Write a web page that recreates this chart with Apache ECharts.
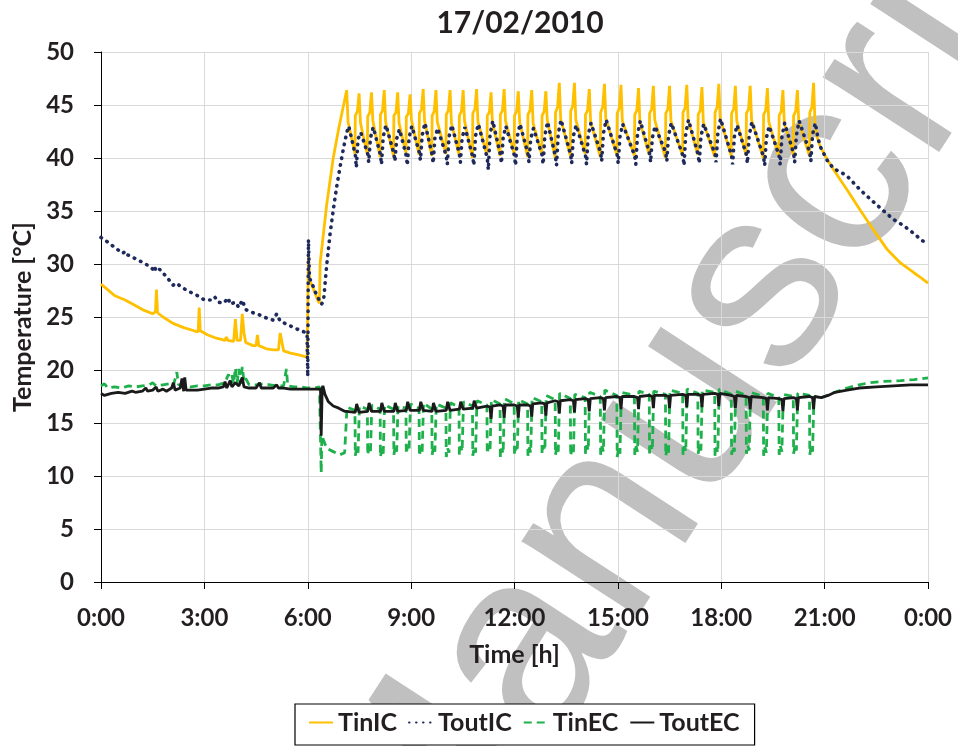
<!DOCTYPE html>
<html><head><meta charset="utf-8">
<script src="https://cdn.jsdelivr.net/npm/echarts@6/dist/echarts.min.js"></script>
<style>html,body{margin:0;padding:0;background:#fff}#c{width:958px;height:746px}</style>
</head><body><div id="c"></div>
<script>
const titleText = '17/02/2010';
const xAxisName = 'Time [h]';
const yAxisName = 'Temperature [°C]';
const xTickLabels = ['0:00','3:00','6:00','9:00','12:00','15:00','18:00','21:00','0:00'];
const seriesNames = ['TinIC','ToutIC','TinEC','ToutEC'];
const watermarkText = 'Manuscript';

// [hour, °C]
const tinIC = [
[0,28.1],[0.15,27.7],[0.4,27.0],[0.7,26.6],[0.93,26.2],[1.2,25.7],[1.5,25.3],[1.58,25.5],[1.61,27.6],[1.64,25.4],[1.8,25.0],[2.09,24.4],[2.4,24.0],[2.7,23.7],[2.82,23.6],[2.85,25.9],[2.88,23.7],[3.1,23.3],[3.35,23.0],[3.6,22.8],[3.64,23.1],[3.68,22.8],[3.85,22.7],[3.9,24.8],[3.95,22.8],[4.05,22.8],[4.1,25.3],[4.15,23.5],[4.2,22.6],[4.41,22.3],[4.5,22.3],[4.54,23.3],[4.58,22.3],[4.8,22.0],[5.0,21.9],[5.15,21.9],[5.2,23.5],[5.25,23.4],[5.3,21.8],[5.5,21.6],[5.77,21.4],[5.98,21.2],
[6.0,21.3],[6.02,31.0],[6.06,28.4],[6.12,28.0],[6.3,26.5],[6.34,26.3],[6.36,30.1],[6.55,35.6],[6.74,40.0],[6.9,42.8],[7.13,46.4],[7.17,43.4],
[7.37,40.4],[7.38,44.0],[7.44,44.4],[7.49,46.1],[7.53,43.3],
[7.73,40.3],[7.74,43.9],[7.80,44.3],[7.85,46.2],[7.89,43.5],
[8.10,40.1],[8.11,44.1],[8.17,44.5],[8.22,46.4],[8.26,43.4],
[8.49,40.2],[8.50,44.0],[8.56,44.3],[8.61,46.2],[8.65,43.3],
[8.85,40.5],[8.86,43.9],[8.92,44.2],[8.97,46.0],[9.01,43.6],
[9.23,40.3],[9.24,44.2],[9.30,44.6],[9.35,46.5],[9.39,43.5],
[9.60,40.2],[9.61,44.0],[9.67,44.4],[9.72,46.4],[9.76,43.4],
[10.01,40.4],[10.02,44.1],[10.08,44.5],[10.13,46.4],[10.17,43.3],
[10.39,40.3],[10.40,44.0],[10.46,44.4],[10.51,46.4],[10.55,43.5],
[10.78,40.0],[10.79,44.2],[10.85,44.6],[10.90,46.5],[10.94,43.4],
[11.20,40.3],[11.21,44.0],[11.27,44.3],[11.32,46.2],[11.36,43.3],
[11.58,40.2],[11.59,44.1],[11.65,44.5],[11.70,46.5],[11.74,43.5],
[11.99,40.4],[12.00,44.0],[12.06,44.4],[12.11,46.3],[12.15,43.4],
[12.38,40.1],[12.39,44.1],[12.45,44.5],[12.50,46.4],[12.54,43.3],
[12.79,40.3],[12.80,44.0],[12.86,44.4],[12.91,46.3],[12.95,43.6],
[13.18,40.0],[13.19,44.3],[13.25,44.8],[13.30,47.1],[13.34,43.7],
[13.62,40.2],[13.63,44.4],[13.69,44.9],[13.74,47.1],[13.78,43.6],
[14.05,40.4],[14.06,44.1],[14.12,44.5],[14.17,46.5],[14.21,43.4],
[14.49,40.1],[14.50,44.3],[14.56,44.8],[14.61,47.0],[14.65,43.7],
[14.97,40.3],[14.98,44.2],[15.04,44.7],[15.09,46.9],[15.13,43.5],
[15.48,40.2],[15.49,44.1],[15.55,44.5],[15.60,46.6],[15.64,43.4],
[15.91,40.3],[15.92,44.2],[15.98,44.6],[16.03,46.8],[16.07,43.6],
[16.38,40.0],[16.39,44.2],[16.45,44.6],[16.50,46.8],[16.54,43.5],
[16.88,40.2],[16.89,44.3],[16.95,44.7],[17.00,46.9],[17.04,43.6],
[17.32,40.3],[17.33,44.1],[17.39,44.5],[17.44,46.7],[17.48,43.4],
[17.81,40.1],[17.82,44.3],[17.88,44.8],[17.93,47.0],[17.97,43.7],
[18.29,40.2],[18.30,44.2],[18.36,44.6],[18.41,46.8],[18.45,43.5],
[18.72,40.3],[18.73,44.2],[18.79,44.6],[18.84,46.8],[18.88,43.6],
[19.22,40.0],[19.23,44.1],[19.29,44.5],[19.34,46.6],[19.38,43.4],
[19.67,40.2],[19.68,44.0],[19.74,44.4],[19.79,46.4],[19.83,43.3],
[20.09,40.3],[20.10,44.0],[20.16,44.4],[20.21,46.4],[20.25,43.4],
[20.56,40.2],[20.57,44.3],[20.63,44.8],[20.68,47.1],[20.72,43.3],
[20.78,42.0],[20.87,41.1],[20.97,40.5],[21.07,39.9],[21.26,38.9],[21.65,37.0],[22.03,35.1],[22.42,33.2],[22.81,31.4],[23.2,30.1],[23.58,29.2],[23.8,28.7],[24,28.2]
];

const toutIC = [
[0,32.5],[0.1,32.3],[0.3,31.8],[0.63,31.0],[0.7,31.2],[0.75,30.9],[1.0,30.5],[1.3,30.0],[1.51,29.5],[1.55,29.8],[1.6,29.3],[1.7,29.5],[1.9,28.8],[2.09,28.0],[2.2,28.2],[2.3,27.9],[2.5,27.5],[2.87,26.9],[3.0,26.6],[3.2,26.6],[3.3,26.9],[3.4,26.4],[3.55,26.3],[3.7,26.8],[3.74,26.2],[3.9,26.4],[4.0,25.9],[4.1,26.6],[4.2,25.7],[4.41,25.4],[4.6,25.2],[4.8,24.9],[5.0,24.7],[5.1,25.3],[5.2,24.6],[5.4,24.3],[5.6,24.0],[5.8,23.7],[5.98,23.5],
[6.0,19.4],[6.02,32.3],[6.05,28.6],[6.1,28.4],[6.2,27.5],[6.3,26.8],[6.4,26.2],[6.46,26.6],[6.55,29.9],[6.65,32.9],[6.74,35.1],[6.84,37.3],[6.94,39.2],[7.03,40.8],[7.13,42.4],[7.19,43.0],
[7.38,40.3],[7.41,39.1],[7.46,41.8],[7.54,42.4],
[7.74,40.4],[7.77,39.6],[7.82,41.9],[7.90,42.9],
[8.11,40.3],[8.14,39.4],[8.19,42.0],[8.27,43.1],
[8.50,40.4],[8.53,39.7],[8.58,41.8],[8.66,42.7],
[8.86,40.2],[8.89,39.3],[8.94,41.9],[9.02,43.0],
[9.24,40.5],[9.27,39.8],[9.32,42.1],[9.40,43.3],
[9.61,40.3],[9.64,39.5],[9.69,41.9],[9.77,42.8],
[10.02,40.2],[10.05,39.4],[10.10,42.0],[10.18,43.1],
[10.40,40.4],[10.43,39.6],[10.48,41.9],[10.56,42.9],
[10.79,40.1],[10.82,39.3],[10.87,42.1],[10.95,43.2],
[11.21,40.0],[11.24,38.9],[11.29,42.2],[11.37,43.5],
[11.59,40.3],[11.62,39.5],[11.67,41.9],[11.75,43.0],
[12.00,40.2],[12.03,39.3],[12.08,42.0],[12.16,43.2],
[12.39,40.4],[12.42,39.6],[12.47,41.8],[12.55,42.8],
[12.80,40.3],[12.83,39.4],[12.88,42.1],[12.96,43.4],
[13.19,40.1],[13.22,39.3],[13.27,42.3],[13.35,43.6],
[13.63,40.3],[13.66,39.5],[13.71,42.1],[13.79,43.1],
[14.06,40.2],[14.09,39.4],[14.14,42.2],[14.22,43.3],
[14.50,40.5],[14.53,39.7],[14.58,42.3],[14.66,43.6],
[14.98,40.3],[15.01,39.5],[15.06,42.0],[15.14,43.2],
[15.49,40.2],[15.52,39.4],[15.57,42.2],[15.65,43.5],
[15.92,40.4],[15.95,39.6],[16.00,41.9],[16.08,43.0],
[16.39,40.5],[16.42,39.7],[16.47,42.1],[16.55,43.3],
[16.89,40.2],[16.92,39.3],[16.97,42.3],[17.05,43.6],
[17.33,40.3],[17.36,39.5],[17.41,42.0],[17.49,43.2],
[17.82,40.4],[17.85,39.6],[17.90,42.3],[17.98,43.7],
[18.30,40.2],[18.33,39.4],[18.38,42.0],[18.46,43.1],
[18.73,40.3],[18.76,39.5],[18.81,42.1],[18.89,43.4],
[19.23,40.1],[19.26,39.3],[19.31,41.9],[19.39,43.0],
[19.68,40.2],[19.71,39.4],[19.76,42.0],[19.84,43.3],
[20.10,40.4],[20.13,39.6],[20.18,42.1],[20.26,43.5],
[20.57,40.5],[20.60,39.7],[20.65,42.2],[20.73,43.3],
[20.8,42.0],[20.87,41.1],[21.07,39.8],[21.26,39.0],[21.45,38.7],[21.65,38.3],[22.03,37.0],[22.3,36.2],[22.61,35.3],[23.0,34.2],[23.3,33.6],[23.58,32.9],[23.8,32.3],[24,31.8]
];

const tinEC = [
[0,18.5],[0.1,18.7],[0.2,18.3],[0.4,18.4],[0.6,18.3],[0.8,18.5],[1.0,18.4],[1.2,18.5],[1.4,18.6],[1.5,18.8],[1.6,18.5],[1.8,18.6],[2.0,18.7],[2.1,18.5],[2.2,19.8],[2.25,18.6],[2.4,18.6],[2.6,18.4],[2.8,18.5],[3.0,18.5],[3.2,18.6],[3.4,18.6],[3.6,18.8],[3.7,19.6],[3.75,18.6],[3.8,19.5],[3.85,18.7],[3.9,20.2],[3.95,18.8],[4.0,20.1],[4.05,18.7],[4.1,20.3],[4.15,18.9],[4.2,19.2],[4.3,18.6],[4.5,18.6],[4.7,18.7],[4.9,18.6],[5.1,18.5],[5.3,18.5],[5.38,20.1],[5.42,18.5],[5.6,18.4],[5.8,18.4],[6.0,18.3],[6.2,18.3],[6.34,18.4],
[6.37,18.3],[6.39,10.3],[6.41,13.8],[6.55,12.6],[6.74,12.3],[6.93,12.0],[7.07,12.2],[7.14,16.5],
[7.37,16.2],[7.38,11.9],[7.42,12.7],[7.46,12.2],[7.50,16.6],
[7.73,16.3],[7.74,12.0],[7.78,12.8],[7.82,12.3],[7.86,16.7],
[8.10,16.3],[8.11,11.8],[8.15,12.6],[8.19,12.1],[8.23,16.7],
[8.49,16.3],[8.50,12.0],[8.54,12.8],[8.58,12.3],[8.62,16.6],
[8.85,16.4],[8.86,12.1],[8.90,12.9],[8.94,12.4],[8.98,16.8],
[9.23,16.4],[9.24,11.9],[9.28,12.7],[9.32,12.2],[9.36,16.9],
[9.60,16.3],[9.61,12.0],[9.65,12.8],[9.69,12.3],[9.73,16.8],
[10.01,16.4],[10.02,11.8],[10.06,12.6],[10.10,12.2],[10.14,16.9],
[10.39,16.5],[10.40,12.0],[10.44,12.8],[10.48,12.3],[10.52,17.0],
[10.78,16.6],[10.79,11.9],[10.83,12.7],[10.87,12.2],[10.91,17.1],
[11.20,16.7],[11.21,12.1],[11.25,12.9],[11.29,12.4],[11.33,17.2],
[11.58,16.8],[11.59,11.8],[11.63,12.6],[11.67,12.1],[11.71,17.3],
[11.99,16.8],[12.00,12.0],[12.04,12.8],[12.08,12.3],[12.12,17.2],
[12.38,16.8],[12.39,11.9],[12.43,12.7],[12.47,12.2],[12.51,17.4],
[12.79,17.0],[12.80,12.1],[12.84,12.9],[12.88,12.4],[12.92,17.6],
[13.18,17.2],[13.19,12.0],[13.23,12.8],[13.27,12.3],[13.31,17.8],
[13.62,17.3],[13.63,11.9],[13.67,12.7],[13.71,12.2],[13.75,17.7],
[14.05,17.4],[14.06,12.1],[14.10,12.9],[14.14,12.4],[14.18,17.9],
[14.49,17.5],[14.50,12.0],[14.54,12.8],[14.58,12.3],[14.62,18.1],
[14.97,17.6],[14.98,11.8],[15.02,12.6],[15.06,12.1],[15.10,17.9],
[15.48,17.6],[15.49,12.0],[15.53,12.8],[15.57,12.3],[15.61,18.0],
[15.91,17.7],[15.92,12.1],[15.96,12.9],[16.00,12.4],[16.04,18.0],
[16.38,17.7],[16.39,11.9],[16.43,12.7],[16.47,12.2],[16.51,18.1],
[16.88,17.8],[16.89,12.0],[16.93,12.8],[16.97,12.3],[17.01,18.2],
[17.32,17.8],[17.33,12.1],[17.37,12.9],[17.41,12.4],[17.45,18.1],
[17.81,17.9],[17.82,11.9],[17.86,12.7],[17.90,12.2],[17.94,18.2],
[18.29,17.7],[18.30,12.0],[18.34,12.8],[18.38,12.3],[18.42,18.0],
[18.72,17.6],[18.73,12.1],[18.77,12.9],[18.81,12.4],[18.85,17.9],
[19.22,17.5],[19.23,11.9],[19.27,12.7],[19.31,12.2],[19.35,17.8],
[19.67,17.4],[19.68,12.0],[19.72,12.8],[19.76,12.3],[19.80,17.7],
[20.09,17.5],[20.10,12.1],[20.14,12.9],[20.18,12.4],[20.22,17.8],
[20.56,17.6],[20.57,12.0],[20.61,12.8],[20.65,12.3],[20.69,17.5],
[20.8,17.3],[21.0,17.5],[21.3,17.9],[21.65,18.3],[22.0,18.6],[22.3,18.8],[22.6,18.9],[23.2,19.0],[23.6,19.1],[24,19.25]
];

const toutEC = [
[0,17.8],[0.1,17.6],[0.3,17.8],[0.5,17.9],[0.7,17.8],[0.9,18.0],[1.0,17.9],[1.2,18.0],[1.3,18.3],[1.35,18.0],[1.5,18.1],[1.6,18.4],[1.65,18.0],[1.8,18.2],[1.9,18.0],[2.05,18.3],[2.1,18.8],[2.15,18.1],[2.3,18.3],[2.35,19.2],[2.4,18.0],[2.43,19.3],[2.47,18.1],[2.6,18.1],[2.8,18.1],[3.0,18.2],[3.2,18.3],[3.4,18.3],[3.55,18.4],[3.6,18.9],[3.65,18.3],[3.75,19.0],[3.8,18.4],[3.9,18.8],[4.0,18.5],[4.1,19.3],[4.15,18.4],[4.3,18.3],[4.5,18.3],[4.6,18.8],[4.65,18.3],[4.8,18.3],[5.0,18.3],[5.1,18.6],[5.15,18.3],[5.3,18.3],[5.5,18.2],[5.8,18.2],[6.0,18.2],[6.2,18.2],
[6.37,18.2],[6.39,13.8],[6.42,18.3],[6.44,18.5],[6.5,17.7],[6.6,17.0],[6.74,16.6],[6.9,16.4],[7.07,16.1],[7.13,16.1],
[7.38,16.0],[7.42,16.8],[7.45,16.7],[7.49,16.0],
[7.74,16.1],[7.78,16.9],[7.81,16.8],[7.85,16.1],
[8.11,16.1],[8.15,16.9],[8.18,16.8],[8.22,16.1],
[8.50,16.1],[8.54,16.9],[8.57,16.8],[8.61,16.1],
[8.86,16.2],[8.90,17.0],[8.93,16.9],[8.97,16.2],
[9.24,16.2],[9.28,17.0],[9.31,16.9],[9.35,16.2],
[9.61,16.1],[9.65,16.9],[9.68,16.8],[9.72,16.1],
[10.02,16.2],[10.06,17.0],[10.09,16.9],[10.13,16.2],
[10.40,16.3],[10.44,17.0],[10.47,16.9],[10.51,16.3],
[10.79,16.4],[10.83,17.1],[10.86,17.0],[10.90,16.4],
[11.20,16.6],[11.29,16.5],[11.32,15.4],[11.35,16.6],
[11.58,16.7],[11.67,16.6],[11.70,15.5],[11.73,16.7],
[11.99,16.7],[12.08,16.6],[12.11,15.5],[12.14,16.7],
[12.38,16.7],[12.47,16.6],[12.50,15.6],[12.53,16.8],
[12.79,16.9],[12.88,16.8],[12.91,15.7],[12.94,16.9],
[13.18,17.1],[13.27,17.0],[13.30,15.9],[13.33,17.1],
[13.62,17.2],[13.71,17.1],[13.74,16.0],[13.77,17.2],
[14.05,17.3],[14.14,17.2],[14.17,16.1],[14.20,17.3],
[14.49,17.4],[14.58,17.3],[14.61,16.2],[14.64,17.4],
[14.97,17.5],[15.06,17.4],[15.09,16.3],[15.12,17.5],
[15.48,17.5],[15.57,17.4],[15.60,16.3],[15.63,17.5],
[15.91,17.6],[16.00,17.5],[16.03,16.4],[16.06,17.6],
[16.38,17.6],[16.47,17.5],[16.50,16.4],[16.53,17.6],
[16.88,17.7],[16.97,17.6],[17.00,16.5],[17.03,17.7],
[17.32,17.7],[17.41,17.6],[17.44,16.5],[17.47,17.7],
[17.81,17.8],[17.90,17.7],[17.93,16.6],[17.96,17.8],
[18.29,17.6],[18.38,17.5],[18.41,16.4],[18.44,17.6],
[18.72,17.5],[18.81,17.4],[18.84,16.3],[18.87,17.5],
[19.22,17.4],[19.31,17.3],[19.34,16.2],[19.37,17.4],
[19.67,17.3],[19.76,17.2],[19.79,16.1],[19.82,17.3],
[20.09,17.4],[20.18,17.3],[20.21,16.2],[20.24,17.4],
[20.56,17.5],[20.65,17.4],[20.68,16.3],[20.71,17.5],
[20.9,17.4],[21.1,17.6],[21.3,17.9],[21.65,18.1],[22.0,18.3],[22.5,18.4],[23.0,18.5],[23.5,18.6],[24,18.6]
];

const FONT = 'Lato';
const TXT = '#231f20';
const chart = echarts.init(document.getElementById('c'), null, {renderer: 'canvas'});

chart.setOption({
  animation: false,
  backgroundColor: '#fff',
  title: {
    text: titleText, left: 515, top: 3, textAlign: 'center',
    textStyle: {fontFamily: FONT, fontSize: 30, fontWeight: 'bold', color: TXT}
  },
  graphic: [{
    type: 'text', x: 718, y: 360, rotation: 57 * Math.PI / 180, z: -1, silent: true,
    style: {text: watermarkText, fontFamily: 'Liberation Sans', fontSize: 262, fill: '#c0c0c0', align: 'center', verticalAlign: 'middle'}
  }],
  grid: {left: 101, right: 30, top: 52, bottom: 164, containLabel: false},
  legend: {
    data: seriesNames, left: 295, top: 704, orient: 'horizontal',
    padding: [6, 15, 10, 13], itemGap: 11, itemWidth: 24, itemHeight: 12,
    borderColor: '#000', borderWidth: 1.2, backgroundColor: '#fff', z: 10,
    itemStyle: {opacity: 0},
    textStyle: {fontFamily: FONT, fontSize: 25, fontWeight: 'bold', color: TXT}
  },
  xAxis: {
    type: 'value', min: 0, max: 24, interval: 3,
    name: xAxisName, nameLocation: 'middle', nameGap: 60,
    nameTextStyle: {fontFamily: FONT, fontSize: 25, fontWeight: 'bold', color: TXT},
    axisLine: {show: true, lineStyle: {color: '#000', width: 1}},
    axisTick: {show: true, inside: false, length: 7, lineStyle: {color: '#000'}},
    axisLabel: {margin: 24, fontFamily: FONT, fontSize: 24, fontWeight: 'bold', color: TXT,
      formatter: v => xTickLabels[Math.round(v / 3)]},
    splitLine: {show: true, lineStyle: {color: '#d9d9d9', width: 1}}
  },
  yAxis: {
    type: 'value', min: 0, max: 50, interval: 5,
    name: yAxisName, nameLocation: 'middle', nameGap: 63, nameRotate: 90,
    nameTextStyle: {fontFamily: FONT, fontSize: 25, fontWeight: 'bold', color: TXT},
    axisLine: {show: true, lineStyle: {color: '#000', width: 1}},
    axisTick: {show: true, inside: false, length: 7, lineStyle: {color: '#000'}},
    axisLabel: {margin: 27, fontFamily: FONT, fontSize: 24, fontWeight: 'bold', color: TXT},
    splitLine: {show: true, lineStyle: {color: '#d9d9d9', width: 1}}
  },
  series: [
    {name: seriesNames[0], type: 'line', data: tinIC, showSymbol: false, symbol: 'none', z: 3,
     lineStyle: {color: '#FFC000', width: 2.8}, itemStyle: {color: '#FFC000'}},
    {name: seriesNames[1], type: 'line', data: toutIC, showSymbol: false, symbol: 'none', z: 4,
     lineStyle: {color: '#1F2A5C', width: 3.6, type: [0.5, 6.5], cap: 'round'}, itemStyle: {color: '#1F2A5C'}},
    {name: seriesNames[2], type: 'line', data: tinEC, showSymbol: false, symbol: 'none', z: 5,
     lineStyle: {color: '#1DB04B', width: 2.8, type: [8, 5]}, itemStyle: {color: '#1DB04B'}},
    {name: seriesNames[3], type: 'line', data: toutEC, showSymbol: false, symbol: 'none', z: 6,
     lineStyle: {color: '#1a1a1a', width: 2.8}, itemStyle: {color: '#1a1a1a'}}
  ]
});
</script>
</body></html>
